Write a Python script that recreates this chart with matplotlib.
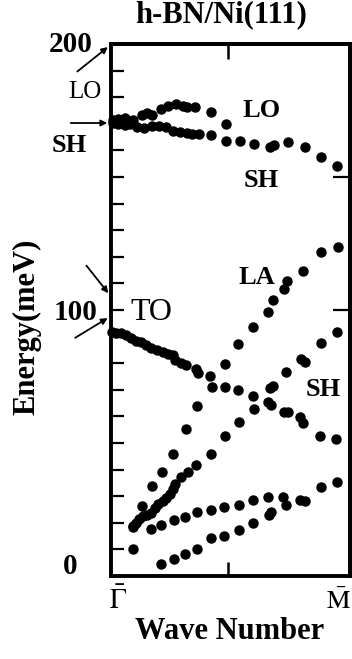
import numpy as np
import matplotlib
matplotlib.use("Agg")
import matplotlib.pyplot as plt

plt.rcParams['font.family'] = ['Liberation Serif', 'DejaVu Serif']
plt.rcParams['mathtext.fontset'] = 'stix'

# wave number as fraction of Gamma-M, energy in meV
lo_q = [0.01, 0.03, 0.06, 0.09, 0.13, 0.15, 0.17, 0.21, 0.24, 0.27, 0.30, 0.32, 0.35, 0.42, 0.48]
lo_e = [171.4, 171.8, 172.2, 171.4, 173.3, 174.1, 173.3, 175.6, 176.7, 177.4, 176.7, 176.3, 176.3, 174.4, 169.9]

sh_hi_q = [0.01, 0.03, 0.06, 0.08, 0.11, 0.14, 0.17, 0.20, 0.23, 0.26, 0.29, 0.32, 0.34, 0.37,
           0.42, 0.48, 0.54, 0.60, 0.665, 0.68, 0.74, 0.81, 0.88, 0.946]
sh_hi_e = [170.3, 169.9, 169.5, 169.9, 168.8, 168.4, 169.2, 169.2, 168.8, 167.3, 166.9, 166.5, 166.2, 166.2,
           165.8, 163.5, 163.5, 162.4, 161.3, 162.0, 163.2, 161.3, 157.5, 154.1]

to_q = [0.004, 0.021, 0.042, 0.063, 0.084, 0.105, 0.126, 0.146, 0.167, 0.192, 0.218, 0.238, 0.259, 0.268,
        0.293, 0.314, 0.356, 0.364, 0.414, 0.477, 0.531, 0.594, 0.657, 0.669, 0.724, 0.741, 0.791, 0.803,
        0.874, 0.941]
to_e = [91.7, 91.4, 91.4, 90.6, 89.5, 88.3, 88.0, 86.8, 85.7, 85.0, 84.2, 83.5, 83.1, 81.2,
        80.1, 79.3, 77.8, 76.3, 75.2, 71.1, 69.9, 67.7, 65.4, 64.3, 61.7, 61.7, 59.8, 57.5,
        52.6, 51.5]

la_q = [0.092, 0.130, 0.172, 0.213, 0.259, 0.314, 0.360, 0.423, 0.477, 0.531, 0.594, 0.657, 0.678,
        0.724, 0.736, 0.803, 0.879, 0.950]
la_e = [18.8, 26.3, 33.8, 39.1, 45.9, 55.3, 63.9, 71.1, 79.7, 87.2, 93.6, 99.2, 103.8,
        107.9, 110.9, 114.7, 121.8, 123.7]

sh_mid_q = [0.092, 0.105, 0.117, 0.134, 0.151, 0.167, 0.184, 0.197, 0.218, 0.230, 0.247, 0.259, 0.268,
            0.293, 0.322, 0.356, 0.418, 0.477, 0.536, 0.598, 0.665, 0.678, 0.732, 0.795, 0.812, 0.879, 0.946]
sh_mid_e = [18.4, 19.9, 21.4, 22.6, 22.9, 23.7, 25.6, 27.1, 28.2, 29.3, 30.8, 32.7, 34.6,
            37.2, 39.1, 41.7, 45.9, 52.6, 57.9, 62.8, 70.7, 71.4, 76.7, 81.6, 80.5, 87.6, 91.7]

low_a_q = [0.092, 0.167, 0.209, 0.264, 0.310, 0.360, 0.418, 0.473, 0.536, 0.594, 0.657, 0.720, 0.791,
           0.812, 0.879, 0.946]
low_a_e = [10.2, 17.7, 19.2, 21.1, 22.2, 24.1, 24.8, 25.9, 26.7, 28.6, 29.7, 29.7, 28.6,
           28.2, 33.5, 35.3]

low_b_q = [0.209, 0.264, 0.310, 0.360, 0.418, 0.473, 0.536, 0.594, 0.661, 0.669, 0.732]
low_b_e = [4.5, 6.4, 8.3, 10.2, 14.3, 15.0, 17.3, 19.9, 22.9, 24.1, 26.7]

fig = plt.figure(figsize=(3.52, 6.59), dpi=100)
ax = fig.add_axes([111/352, 1 - 576/659, 239/352, 532/659])

for q, e in [(lo_q, lo_e), (sh_hi_q, sh_hi_e), (to_q, to_e), (la_q, la_e),
             (sh_mid_q, sh_mid_e), (low_a_q, low_a_e), (low_b_q, low_b_e)]:
    ax.plot(q, e, 'o', color='black', ms=6.5, mec='black', clip_on=False)

ax.set_xlim(0, 1)
ax.set_ylim(0, 200)
for s in ax.spines.values():
    s.set_linewidth(2.8)

ax.set_yticks(np.arange(10, 200, 10))
ax.set_yticklabels([])
ax.tick_params(axis='y', direction='in', length=9.5, width=1.6)
ax.set_xticks([0.49])
ax.set_xticklabels([])
ax.tick_params(axis='x', direction='in', length=10, width=1.8)

ax_r = ax.secondary_yaxis('right')
ax_r.set_yticks([100, 150])
ax_r.set_yticklabels([])
ax_r.tick_params(direction='in', length=12, width=1.6)
ax_r.spines['right'].set_linewidth(2.8)

ax_t = ax.secondary_xaxis('top')
ax_t.set_xticks([0.49])
ax_t.set_xticklabels([])
ax_t.tick_params(direction='in', length=11, width=1.8)
ax_t.spines['top'].set_linewidth(2.8)

bold = dict(fontweight='bold', ha='center', va='center', clip_on=False)

# energy numbers on the left
ax.text(-0.17, 200, '200', fontsize=21, **bold)
ax.text(-0.15, 99, '100', fontsize=21, **bold)
ax.text(-0.17, 3.7, '0', fontsize=21, **bold)

# branch labels
ax.text(-0.11, 182, 'LO', fontsize=18, ha='center', va='center')
ax.text(-0.175, 162, 'SH', fontsize=19, **bold)
ax.text(0.17, 99, 'TO', fontsize=23, ha='center', va='center')
ax.text(0.63, 175, 'LO', fontsize=19, **bold)
ax.text(0.63, 148.5, 'SH', fontsize=19, **bold)
ax.text(0.61, 112.4, 'LA', fontsize=19, **bold)
ax.text(0.887, 70.3, 'SH', fontsize=19, **bold)

arrow = dict(arrowstyle='-|>', color='black', lw=1.3, mutation_scale=9)
ax.annotate('', xy=(-0.004, 199.5), xytext=(-0.15, 189), arrowprops=arrow, annotation_clip=False)
ax.annotate('', xy=(-0.004, 170.3), xytext=(-0.18, 170.3), arrowprops=arrow, annotation_clip=False)
ax.annotate('', xy=(-0.004, 105.5), xytext=(-0.11, 117.5), arrowprops=arrow, annotation_clip=False)
ax.annotate('', xy=(-0.004, 97.5), xytext=(-0.16, 89), arrowprops=arrow, annotation_clip=False)

# high-symmetry points
ax.text(0.03, -9.5, r'$\bar{\Gamma}$', fontsize=20, ha='center', va='center', clip_on=False)
ax.text(0.95, -9.5, r'$\bar{\mathrm{M}}$', fontsize=19, ha='center', va='center', clip_on=False)

fig.text(0.628, 0.977, 'h-BN/Ni(111)', fontsize=22, fontweight='bold', ha='center', va='center')
fig.text(0.653, 0.041, 'Wave Number', fontsize=22, fontweight='bold', ha='center', va='center')
fig.text(0.077, 0.504, 'Energy(meV)', fontsize=22, fontweight='bold', ha='center', va='center',
         rotation=90)

fig.savefig('out.png', dpi=100)
